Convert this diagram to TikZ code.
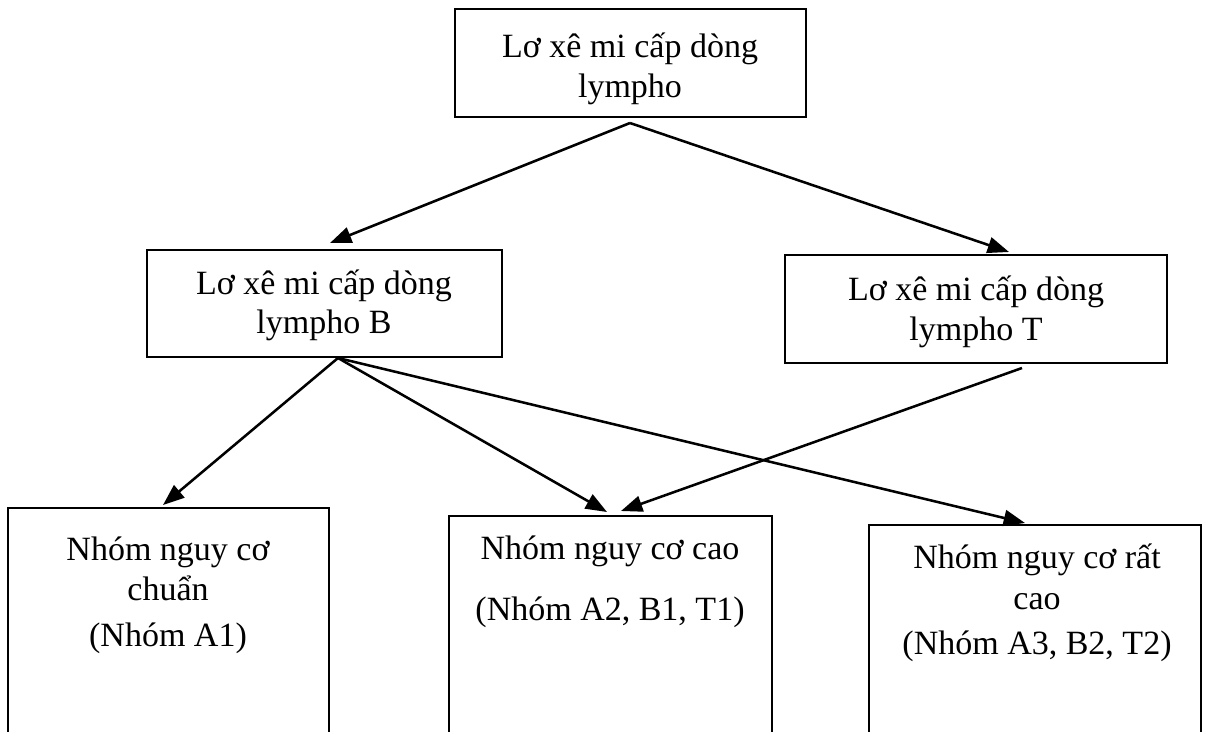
\documentclass[tikz,border=0pt]{standalone}
\usepackage{fontspec}
\setmainfont{Liberation Serif}
\usetikzlibrary{arrows.meta,fit}
\begin{document}
\begin{tikzpicture}[x=0.75pt,y=-0.75pt,
  box/.style={draw=black,line width=0.8pt,inner sep=0pt},
  txt/.style={anchor=base,inner sep=0pt,font=\fontsize{25.5}{30}\selectfont},
  conn/.style={line width=1.9pt,-{Triangle[length=16pt,width=12pt]}}]
\clip (0,0) rectangle (1205,731);
% boxes
\node[box,fit={(455,9) (806,117)}] (top) {};
\node[box,fit={(147,250) (502,357)}] (lymB) {};
\node[box,fit={(785,255) (1167,363)}] (lymT) {};
\node[box,fit={(8,508) (329,745)}] (std) {};
\node[box,fit={(449,516) (772,745)}] (high) {};
\node[box,fit={(869,525) (1201,745)}] (vhigh) {};
% labels
\node[txt] (topA) at (630,58) {Lơ xê mi cấp dòng};
\node[txt] (topB) at (630,98) {lympho};
\node[txt] (lymBA) at (324,294) {Lơ xê mi cấp dòng};
\node[txt] (lymBB) at (324,333) {lympho B};
\node[txt] (lymTA) at (976,300) {Lơ xê mi cấp dòng};
\node[txt] (lymTB) at (976,340) {lympho T};
\node[txt] (stdA) at (168,560) {Nhóm nguy cơ};
\node[txt] (stdB) at (168,600) {chuẩn};
\node[txt] (stdC) at (168,646) {(Nhóm A1)};
\node[txt] (highA) at (610,559) {Nhóm nguy cơ cao};
\node[txt] (highB) at (610,620) {(Nhóm A2, B1, T1)};
\node[txt] (vhighA) at (1037,568) {Nhóm nguy cơ rất};
\node[txt] (vhighB) at (1037,609) {cao};
\node[txt] (vhighC) at (1037,654) {(Nhóm A3, B2, T2)};
% connector ends
\coordinate (topOut) at (630,123);
\coordinate (lymBIn) at (330,243);
\coordinate (lymTIn) at (1009,252);
\coordinate (lymBOut) at (338,358);
\coordinate (lymTOut) at (1022,368);
\coordinate (stdIn) at (163,505);
\coordinate (highInB) at (607,512);
\coordinate (highInT) at (621,511);
\coordinate (vhighIn) at (1025,523);
% connectors
\draw[conn] (topOut) -- (lymBIn);
\draw[conn] (topOut) -- (lymTIn);
\draw[conn] (lymBOut) -- (stdIn);
\draw[conn] (lymBOut) -- (highInB);
\draw[conn] (lymBOut) -- (vhighIn);
\draw[conn] (lymTOut) -- (highInT);
\end{tikzpicture}
\end{document}
